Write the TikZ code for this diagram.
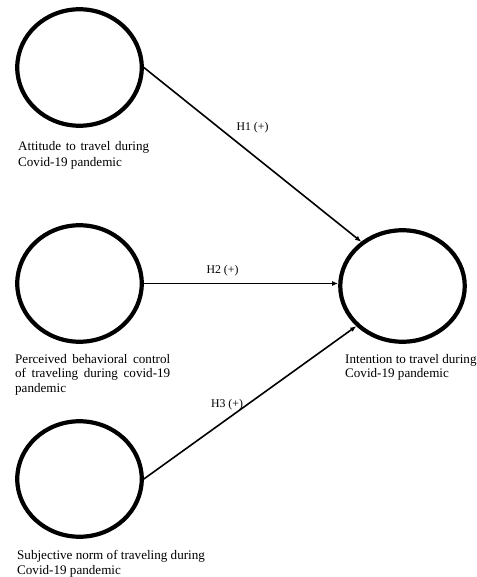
\documentclass[tikz,border=0pt]{standalone}
\usepackage{fontspec}
\setmainfont{Liberation Serif}
\usetikzlibrary{shapes.geometric,arrows.meta}
\tikzset{
  construct/.style={ellipse,draw=black,line width=4.2pt,inner sep=0pt,minimum width=124.5pt,minimum height=116.5pt},
  caption/.style={anchor=north west,inner sep=0pt,align=left,font=\fontsize{13.1}{14.5}\selectfont},
  hyplabel/.style={inner sep=0pt,font=\fontsize{11.8}{13}\selectfont},
  path/.style={line width=1.6pt,-{Latex[length=6pt,width=5pt]}}
}
\newcommand{\jline}[2]{\hbox to #1{#2}}
\begin{document}
\begin{tikzpicture}[x=1pt,y=-1pt]
\useasboundingbox (0,0) rectangle (476,577);
\node[construct] (c1) at (79.5,67.5) {};
\node[construct] (c2) at (79.5,283.5) {};
\node[construct,minimum height=115.5pt] (c3) at (79.5,479) {};
\node[construct,minimum height=111.5pt] (c4) at (402.5,286) {};

\node[caption,font=\fontsize{13.1}{16}\selectfont] (t1) at (18,141.5) {\jline{131pt}{Attitude to travel during}\\Covid-19 pandemic};
\node[caption] (t2) at (15,354) {\jline{155pt}{Perceived behavioral control}\\\jline{155pt}{of traveling during covid-19}\\pandemic};
\node[caption,font=\fontsize{13.1}{15}\selectfont] (t3) at (17,550) {Subjective norm of traveling during\\Covid-19 pandemic};
\node[caption] (t4) at (345,354) {Intention to travel during\\Covid-19 pandemic};

\draw[path] (c1.east) -- (c4.133);
\draw[path] (c2.east) -- (c2.east -| c4.west);
\draw[path] (c3.east) -- (c4.221);

\node[hyplabel] (h1) at (252.5,128) {H1 (+)};
\node[hyplabel] (h2) at (222.5,271) {H2 (+)};
\node[hyplabel] (h3) at (227,405) {H3 (+)};
\end{tikzpicture}
\end{document}
